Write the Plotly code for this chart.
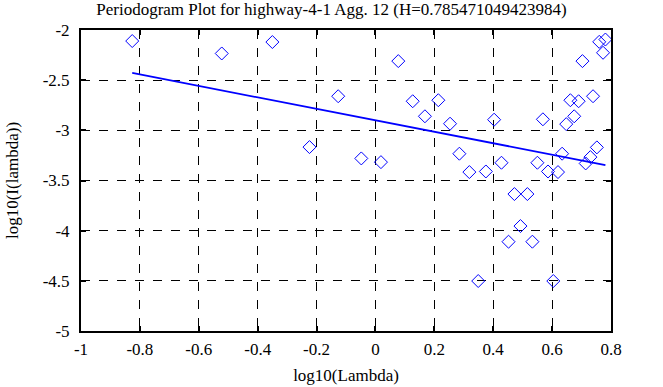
import plotly.graph_objects as go

title_text = "Periodogram Plot for highway-4-1 Agg. 12 (H=0.785471049423984)"
x_label = "log10(Lambda)"
y_label = "log10(I(lambda))"

log_lambda = [-0.826, -0.522, -0.350, -0.224, -0.1265, -0.048, 0.0187, 0.0776, 0.1265, 0.168,
              0.2136, 0.2534, 0.285, 0.319, 0.349, 0.375, 0.403, 0.428, 0.452, 0.472,
              0.4925, 0.516, 0.533, 0.550, 0.5687, 0.586, 0.604, 0.620, 0.634, 0.648,
              0.662, 0.675, 0.690, 0.703, 0.714, 0.730, 0.739, 0.752, 0.760, 0.773, 0.781]
log_I = [-2.11, -2.234, -2.12, -3.167, -2.66, -3.28, -3.317, -2.31, -2.71, -2.86,
         -2.70, -2.934, -3.233, -3.416, -4.502, -3.41, -2.894, -3.323, -4.11, -3.635,
         -3.954, -3.635, -4.11, -3.323, -2.89, -3.41, -4.502, -3.416, -3.233, -2.938,
         -2.70, -2.86, -2.71, -2.31, -3.33, -3.267, -2.66, -3.17, -2.118, -2.227, -2.095]

H = 0.785471049423984
fit_slope = 1 - 2 * H
fit_intercept = -2.90
fit_x = [log_lambda[0], log_lambda[-1]]
fit_y = [fit_intercept + fit_slope * v for v in fit_x]

x_ticks = [-1, -0.8, -0.6, -0.4, -0.2, 0, 0.2, 0.4, 0.6, 0.8]
x_tick_text = ["-1", "-0.8", "-0.6", "-0.4", "-0.2", "0", "0.2", "0.4", "0.6", "0.8"]
y_ticks = [-5, -4.5, -4, -3.5, -3, -2.5, -2]
y_tick_text = ["-5", "-4.5", "-4", "-3.5", "-3", "-2.5", "-2"]

font_family = "Liberation Serif, Times New Roman, serif"

fig = go.Figure()
fig.add_trace(go.Scatter(
    x=log_lambda, y=log_I, mode="markers",
    marker=dict(symbol="diamond-open", size=10, color="#0000ff", line=dict(width=1, color="#0000ff")),
    showlegend=False, hoverinfo="x+y"))
fig.add_trace(go.Scatter(
    x=fit_x, y=fit_y, mode="lines",
    line=dict(color="#0000ff", width=1.8), showlegend=False))

axis_common = dict(
    showline=True, linecolor="black", linewidth=2, mirror="ticks",
    ticks="inside", ticklen=5, tickwidth=2, tickcolor="black",
    showgrid=True, gridcolor="black", gridwidth=1, griddash="dash",
    zeroline=False, tickfont=dict(family=font_family, size=17, color="black"),
    automargin=False,
)

fig.update_layout(
    width=663, height=387,
    margin=dict(l=81, r=52, t=30, b=56),
    paper_bgcolor="white", plot_bgcolor="white",
    title=dict(text=title_text, x=0.5, xanchor="center", y=0.992, yanchor="top",
               font=dict(family=font_family, size=17, color="black")),
    xaxis=dict(range=[-1, 0.8], tickvals=x_ticks, ticktext=x_tick_text, ticklabelstandoff=2,
               title=dict(text=x_label, font=dict(family=font_family, size=17, color="black"), standoff=11),
               **axis_common),
    yaxis=dict(range=[-5, -2], tickvals=y_ticks, ticktext=y_tick_text, ticklabelstandoff=6,
               title=dict(text=y_label, font=dict(family=font_family, size=17, color="black"), standoff=20),
               **axis_common),
)

fig.write_html("out.html", config={"displayModeBar": False},
               post_script="document.body.style.margin='0';")
